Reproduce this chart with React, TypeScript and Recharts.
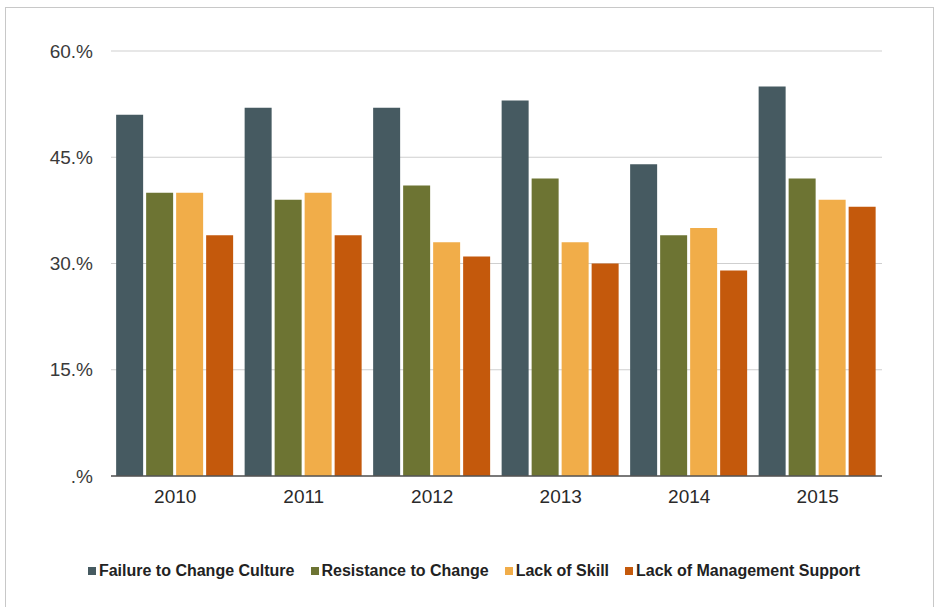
import React from "react";
import { BarChart, Bar, XAxis, YAxis, CartesianGrid } from "recharts";

const years = ["2010", "2011", "2012", "2013", "2014", "2015"];
const failureToChangeCulture = [51, 52, 52, 53, 44, 55];
const resistanceToChange = [40, 39, 41, 42, 34, 42];
const lackOfSkill = [40, 40, 33, 33, 35, 39];
const lackOfManagementSupport = [34, 34, 31, 30, 29, 38];
const yTicks = [0, 15, 30, 45, 60];

const seriesNames = [
  "Failure to Change Culture",
  "Resistance to Change",
  "Lack of Skill",
  "Lack of Management Support",
];
const seriesKeys = ["failure", "resistance", "skill", "mgmt"];
const seriesColors = ["#465a61", "#6d7433", "#f1ad49", "#c4590c"];

const data = years.map((y, i) => ({
  year: y,
  failure: failureToChangeCulture[i],
  resistance: resistanceToChange[i],
  skill: lackOfSkill[i],
  mgmt: lackOfManagementSupport[i],
}));

const font = "'Liberation Sans', Arial, Helvetica, sans-serif";

const LegendBlock = () => (
  <div
    style={{
      position: "absolute",
      left: 0,
      top: 561,
      width: 948,
      display: "flex",
      justifyContent: "center",
      alignItems: "center",
      gap: 16,
      fontFamily: font,
      fontWeight: "bold",
      fontSize: 16,
      color: "#222",
      lineHeight: "20px",
    }}
  >
    {seriesNames.map((n, i) => (
      <div key={n} style={{ display: "flex", alignItems: "center" }}>
        <span
          style={{
            display: "inline-block",
            width: 8,
            height: 8,
            background: seriesColors[i],
            marginRight: 3,
          }}
        />
        <span>{n}</span>
      </div>
    ))}
  </div>
);

export default function App() {
  return (
    <div
      style={{
        position: "fixed",
        left: 0,
        top: 0,
        width: 941,
        height: 607,
        background: "#fff",
        overflow: "hidden",
      }}
    >
      <div
        style={{
          position: "absolute",
          left: 5,
          top: 7,
          width: 929,
          height: 620,
          border: "1px solid #c8c8c8",
          boxSizing: "border-box",
        }}
      />
      <div style={{ position: "absolute", left: 0, top: 0 }}>
        <BarChart
          width={941}
          height={607}
          data={data}
          margin={{ top: 51, right: 59, left: 0, bottom: 101 }}
          barCategoryGap="4%"
          barGap={3}
        >
          <CartesianGrid vertical={false} stroke="#cfcfcf" strokeWidth={1} />
          <XAxis
            dataKey="year"
            height={30}
            tickLine={false}
            axisLine={{ stroke: "#555", strokeWidth: 1.5 }}
            tick={{ fill: "#2a2a2a", fontSize: 19, fontFamily: font }}
            tickMargin={8}
          />
          <YAxis
            width={111}
            domain={[0, 60]}
            ticks={yTicks}
            tickLine={false}
            axisLine={false}
            tickSize={0}
            tickMargin={18}
            tickFormatter={(v: number) => (v === 0 ? ".%" : `${v}.%`)}
            tick={{ fill: "#3a3a3a", fontSize: 19, fontFamily: font }}
          />
          {seriesKeys.map((k, i) => (
            <Bar
              key={k}
              dataKey={k}
              name={seriesNames[i]}
              fill={seriesColors[i]}
              isAnimationActive={false}
            />
          ))}
        </BarChart>
      </div>
      <LegendBlock />
    </div>
  );
}
